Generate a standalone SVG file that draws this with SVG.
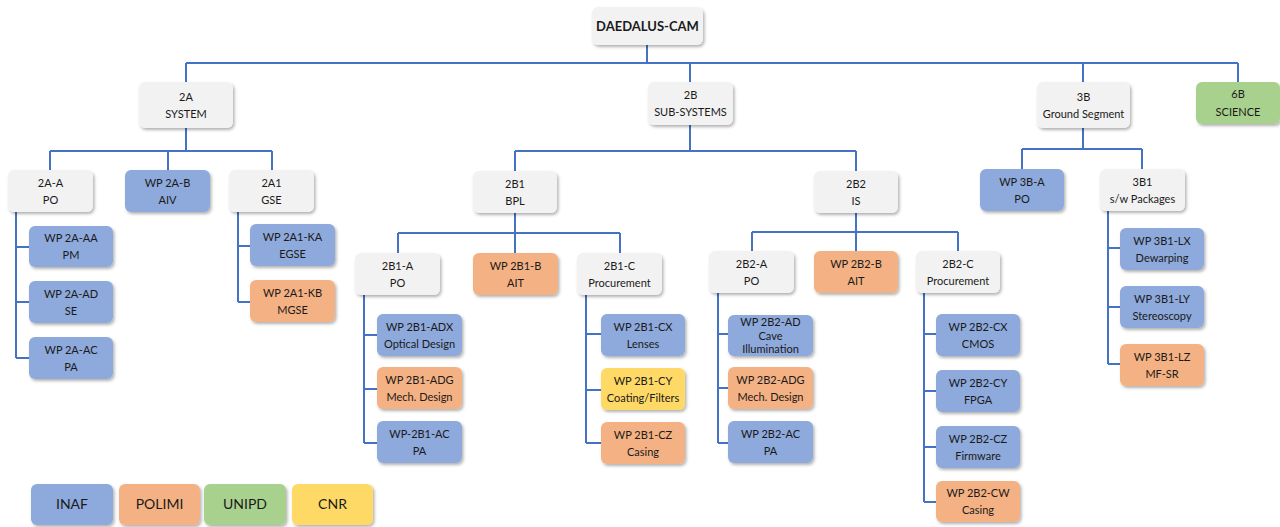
<svg xmlns="http://www.w3.org/2000/svg" width="1280" height="527" viewBox="0 0 1280 527">
<defs>
<filter id="sh" x="-10%" y="-10%" width="130%" height="140%">
<feDropShadow dx="1.5" dy="2" stdDeviation="1.5" flood-color="#000" flood-opacity="0.3"/>
</filter>
<style>
rect{filter:url(#sh);}
.g{fill:#F2F2F2;}
.b{fill:#8EA9DB;}
.o{fill:#F4B183;}
.gr{fill:#A9D18E;}
.y{fill:#FFD966;}
text{font-family:Lato,"Open Sans","Liberation Sans",sans-serif;font-size:11px;fill:#1a1a1a;text-anchor:middle;}
.root{font-size:13px;font-weight:bold;}
.leg{font-size:14px;}
.c path{fill:none;stroke:#4472C4;stroke-width:2;}
</style>
</defs>
<rect x="0" y="0" width="1280" height="527" fill="#fff" style="filter:none"/>
<g class="c" id="connectors">
<path d="M647,45V63M186,63H1238M186,63V82M690,63V82M1083,63V82M1238,63V82"/>
<path d="M186,128V151M50,151H272M50,151V170M168,151V170M272,151V170"/>
<path d="M16,212V358M16,247H29M16,302H29M16,358H29"/>
<path d="M238,212V302M238,246H250M238,302H250"/>
<path d="M690,125V151M515,151H856M515,151V171M856,151V171"/>
<path d="M515,213V253M398,233H620M398,233V253M620,233V253"/>
<path d="M364,295V443M364,335H377M364,389H377M364,443H377"/>
<path d="M586,295V443M586,334H601M586,390H601M586,443H601"/>
<path d="M856,213V251M752,232H958M752,232V251M958,232V251"/>
<path d="M718,293V443M718,334H728M718,388H728M718,443H728"/>
<path d="M924,293V502M924,334H936M924,391H936M924,447H936M924,502H936"/>
<path d="M1083,128V149M1022,149H1142M1022,149V169M1142,149V169"/>
<path d="M1108,211V364M1108,248H1120M1108,307H1120M1108,364H1120"/>
</g>
<g id="root"><rect class="g" x="592" y="7" width="111" height="38" rx="6"/><text class="root" x="647.5" y="31">DAEDALUS-CAM</text></g>
<g id="n2A"><rect class="g" x="139" y="82" width="94" height="46" rx="6"/><text x="186" y="101">2A</text><text x="186" y="117.5">SYSTEM</text></g>
<g id="n2B"><rect class="g" x="648" y="82" width="85" height="43" rx="6"/><text x="690.5" y="99">2B</text><text x="690.5" y="116">SUB-SYSTEMS</text></g>
<g id="n3B"><rect class="g" x="1037" y="82" width="93" height="46" rx="6"/><text x="1083.5" y="101">3B</text><text x="1083.5" y="118">Ground Segment</text></g>
<g id="n6B"><rect class="gr" x="1196" y="82" width="84" height="42" rx="6"/><text x="1238" y="98">6B</text><text x="1238" y="116">SCIENCE</text></g>
<g id="n2A-A"><rect class="g" x="8" y="170" width="85" height="42" rx="6"/><text x="50.5" y="186.5">2A-A</text><text x="50.5" y="203.5">PO</text></g>
<g id="n2A-B"><rect class="b" x="125" y="170" width="85" height="42" rx="6"/><text x="167.5" y="186.5">WP 2A-B</text><text x="167.5" y="203.5">AIV</text></g>
<g id="n2A1"><rect class="g" x="229" y="170" width="85" height="42" rx="6"/><text x="271.5" y="186.5">2A1</text><text x="271.5" y="203.5">GSE</text></g>
<g id="n2A-AA"><rect class="b" x="29" y="226" width="84" height="41" rx="6"/><text x="71" y="242">WP 2A-AA</text><text x="71" y="259">PM</text></g>
<g id="n2A-AD"><rect class="b" x="29" y="281" width="84" height="42" rx="6"/><text x="71" y="297.5">WP 2A-AD</text><text x="71" y="314.5">SE</text></g>
<g id="n2A-AC"><rect class="b" x="29" y="337" width="84" height="42" rx="6"/><text x="71" y="353.5">WP 2A-AC</text><text x="71" y="370.5">PA</text></g>
<g id="n2A1-KA"><rect class="b" x="250" y="224" width="85" height="42" rx="6"/><text x="292.5" y="240.5">WP 2A1-KA</text><text x="292.5" y="257.5">EGSE</text></g>
<g id="n2A1-KB"><rect class="o" x="250" y="280" width="85" height="42" rx="6"/><text x="292.5" y="296.5">WP 2A1-KB</text><text x="292.5" y="313.5">MGSE</text></g>
<g id="n2B1"><rect class="g" x="473" y="171" width="84" height="42" rx="6"/><text x="515" y="187.5">2B1</text><text x="515" y="204.5">BPL</text></g>
<g id="n2B2"><rect class="g" x="814" y="171" width="84" height="42" rx="6"/><text x="856" y="187.5">2B2</text><text x="856" y="204.5">IS</text></g>
<g id="n2B1-A"><rect class="g" x="355" y="253" width="85" height="42" rx="6"/><text x="397.5" y="269.5">2B1-A</text><text x="397.5" y="286.5">PO</text></g>
<g id="n2B1-B"><rect class="o" x="473" y="253" width="85" height="42" rx="6"/><text x="515.5" y="269.5">WP 2B1-B</text><text x="515.5" y="286.5">AIT</text></g>
<g id="n2B1-C"><rect class="g" x="577" y="253" width="85" height="42" rx="6"/><text x="619.5" y="269.5">2B1-C</text><text x="619.5" y="286.5">Procurement</text></g>
<g id="n2B1-ADX"><rect class="b" x="377" y="314" width="85" height="42" rx="6"/><text x="419.5" y="330.5">WP 2B1-ADX</text><text x="419.5" y="347.5">Optical Design</text></g>
<g id="n2B1-ADG"><rect class="o" x="377" y="367" width="85" height="42" rx="6"/><text x="419.5" y="383.5">WP 2B1-ADG</text><text x="419.5" y="400.5">Mech. Design</text></g>
<g id="n2B1-AC"><rect class="b" x="377" y="421" width="85" height="42" rx="6"/><text x="419.5" y="437.5">WP-2B1-AC</text><text x="419.5" y="454.5">PA</text></g>
<g id="n2B1-CX"><rect class="b" x="601" y="314" width="84" height="42" rx="6"/><text x="643" y="330.5">WP 2B1-CX</text><text x="643" y="347.5">Lenses</text></g>
<g id="n2B1-CY"><rect class="y" x="601" y="368" width="84" height="42" rx="6"/><text x="643" y="384.5">WP 2B1-CY</text><text x="643" y="401.5">Coating/Filters</text></g>
<g id="n2B1-CZ"><rect class="o" x="601" y="422" width="84" height="42" rx="6"/><text x="643" y="438.5">WP 2B1-CZ</text><text x="643" y="455.5">Casing</text></g>
<g id="n2B2-A"><rect class="g" x="709" y="251" width="85" height="42" rx="6"/><text x="751.5" y="267.5">2B2-A</text><text x="751.5" y="284.5">PO</text></g>
<g id="n2B2-B"><rect class="o" x="814" y="251" width="84" height="42" rx="6"/><text x="856" y="267.5">WP 2B2-B</text><text x="856" y="284.5">AIT</text></g>
<g id="n2B2-C"><rect class="g" x="916" y="251" width="84" height="42" rx="6"/><text x="958" y="267.5">2B2-C</text><text x="958" y="284.5">Procurement</text></g>
<g id="n2B2-AD"><rect class="b" x="728" y="315" width="85" height="41" rx="6"/><text x="770.5" y="325.5">WP 2B2-AD</text><text x="770.5" y="339.5">Cave</text><text x="770.5" y="353">Illumination</text></g>
<g id="n2B2-ADG"><rect class="o" x="728" y="367" width="85" height="42" rx="6"/><text x="770.5" y="383.5">WP 2B2-ADG</text><text x="770.5" y="400.5">Mech. Design</text></g>
<g id="n2B2-AC"><rect class="b" x="728" y="421" width="85" height="42" rx="6"/><text x="770.5" y="437.5">WP 2B2-AC</text><text x="770.5" y="454.5">PA</text></g>
<g id="n2B2-CX"><rect class="b" x="936" y="314" width="84" height="42" rx="6"/><text x="978" y="330.5">WP 2B2-CX</text><text x="978" y="347.5">CMOS</text></g>
<g id="n2B2-CY"><rect class="b" x="936" y="370" width="84" height="42" rx="6"/><text x="978" y="386.5">WP 2B2-CY</text><text x="978" y="403.5">FPGA</text></g>
<g id="n2B2-CZ"><rect class="b" x="936" y="426" width="84" height="42" rx="6"/><text x="978" y="442.5">WP 2B2-CZ</text><text x="978" y="459.5">Firmware</text></g>
<g id="n2B2-CW"><rect class="o" x="936" y="481" width="84" height="41" rx="6"/><text x="978" y="497">WP 2B2-CW</text><text x="978" y="514">Casing</text></g>
<g id="n3B-A"><rect class="b" x="980" y="169" width="84" height="42" rx="6"/><text x="1022" y="185.5">WP 3B-A</text><text x="1022" y="202.5">PO</text></g>
<g id="n3B1"><rect class="g" x="1100" y="169" width="85" height="42" rx="6"/><text x="1142.5" y="185.5">3B1</text><text x="1142.5" y="202.5">s/w Packages</text></g>
<g id="n3B1-LX"><rect class="b" x="1120" y="228" width="84" height="42" rx="6"/><text x="1162" y="244.5">WP 3B1-LX</text><text x="1162" y="261.5">Dewarping</text></g>
<g id="n3B1-LY"><rect class="b" x="1120" y="286" width="84" height="42" rx="6"/><text x="1162" y="302.5">WP 3B1-LY</text><text x="1162" y="319.5">Stereoscopy</text></g>
<g id="n3B1-LZ"><rect class="o" x="1120" y="344" width="84" height="42" rx="6"/><text x="1162" y="360.5">WP 3B1-LZ</text><text x="1162" y="377.5">MF-SR</text></g>
<g id="legend-inaf"><rect class="b" x="31" y="484" width="82" height="41" rx="6"/><text class="leg" x="72" y="509">INAF</text></g>
<g id="legend-polimi"><rect class="o" x="119" y="484" width="81" height="41" rx="6"/><text class="leg" x="159.5" y="509">POLIMI</text></g>
<g id="legend-unipd"><rect class="gr" x="204" y="484" width="82" height="41" rx="6"/><text class="leg" x="245" y="509">UNIPD</text></g>
<g id="legend-cnr"><rect class="y" x="292" y="484" width="81" height="41" rx="6"/><text class="leg" x="332.5" y="509">CNR</text></g>
</svg>
